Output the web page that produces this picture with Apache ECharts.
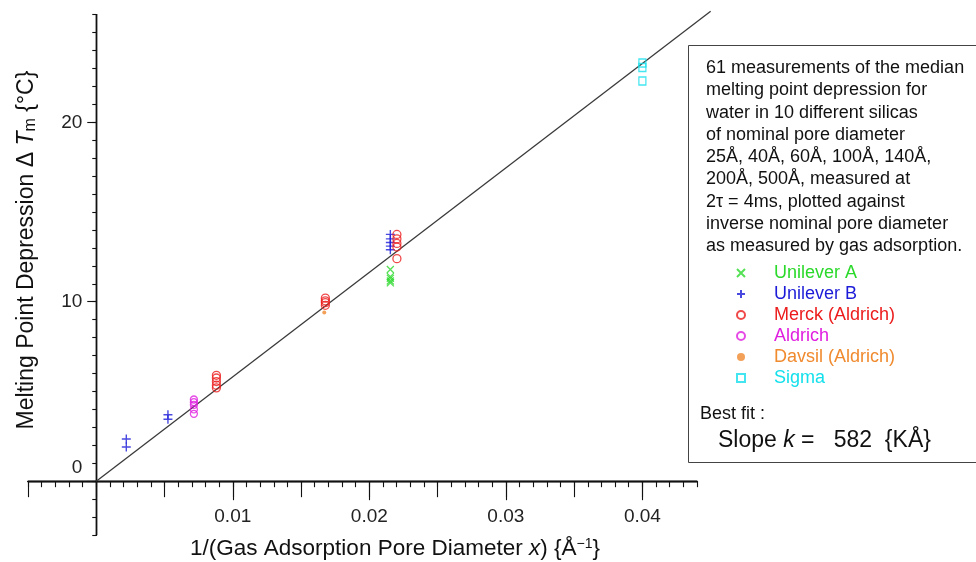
<!DOCTYPE html>
<html>
<head>
<meta charset="utf-8">
<script src="https://cdn.jsdelivr.net/npm/echarts@6/dist/echarts.min.js"></script>
<style>
  html, body { margin: 0; padding: 0; background: #fff; }
  #chart { width: 976px; height: 562px; }
</style>
</head>
<body>
<div id="chart"></div>
<script>
// Melting point depression of water in porous silicas vs inverse pore diameter
const unileverA = [[0.02154, 11.8], [0.02154, 11.4], [0.02154, 11.3], [0.02154, 11.15], [0.02154, 11.05]];
const unileverB = [[0.0022, 2.35], [0.0022, 1.9], [0.00525, 3.7], [0.00525, 3.45],
                   [0.02154, 13.75], [0.02154, 13.5], [0.02154, 13.3], [0.02154, 13.1], [0.02154, 12.9]];
const merck = [[0.0088, 5.9], [0.0088, 5.75], [0.0088, 5.55], [0.0088, 5.35], [0.0088, 5.2],
               [0.01678, 10.2], [0.01678, 10.05], [0.01678, 9.95], [0.01678, 9.8],
               [0.02202, 13.75], [0.02202, 13.5], [0.02202, 13.25], [0.02202, 13.05], [0.02202, 12.4]];
const aldrich = [[0.00715, 4.55], [0.00715, 4.4], [0.00715, 4.25], [0.00715, 4.0], [0.00715, 3.75]];
const davsil = [[0.0167, 9.4]];
const sigma = [[0.04, 23.3], [0.04, 23.05], [0.04, 22.3]];

// Best-fit line through the origin, slope in K·Å
const slopeK = 582;
const fitEndX = 0.045;

const xLabelValues = [0.01, 0.02, 0.03, 0.04];
const yLabelValues = [0, 10, 20];

const FONT = "'Liberation Sans', Arial, Helvetica, sans-serif";
const INK = '#111';

const colors = {
  unileverA: '#2bd92b',
  unileverB: '#1c1cd8',
  merck: '#ec1c1c',
  aldrich: '#e01ee0',
  davsil: '#f08a2e',
  sigma: '#14e0ec'
};

// plot layout and axis ranges
const W = 976, H = 562;
const G = { left: 28, right: 279, top: 14.6, bottom: 27 };
const X_MIN = -0.005, X_MAX = 0.044, Y_MIN = -3, Y_MAX = 26;
const gridW = W - G.left - G.right, gridH = H - G.top - G.bottom;
// offsets that bring the labelled axes onto the zero lines
const yZeroOffset = -gridW * (0 - X_MIN) / (X_MAX - X_MIN);
const xZeroOffset = -gridH * (0 - Y_MIN) / (Y_MAX - Y_MIN);

const halfTicks = [];
for (let i = -1; i <= 8; i++) halfTicks.push(+(i * 0.005).toFixed(3));

const chart = echarts.init(document.getElementById('chart'), null, { renderer: 'canvas' });

const tickStyle = { color: INK, width: 1.1 };

function xAxisOn(yIndex, extra) {
  return Object.assign({
    type: 'value', min: X_MIN, max: X_MAX, position: 'bottom',
    axisLine: { onZero: true, onZeroAxisIndex: yIndex, lineStyle: { color: INK, width: 1.3 } },
    splitLine: { show: false },
    axisLabel: { show: false }
  }, extra);
}
function yAxisOn(xIndex, extra) {
  return Object.assign({
    type: 'value', min: Y_MIN, max: Y_MAX, position: 'left',
    axisLine: { onZero: true, onZeroAxisIndex: xIndex, lineStyle: { color: INK, width: 1.3 } },
    splitLine: { show: false },
    axisLabel: { show: false }
  }, extra);
}

const crossPath = 'path://M0,0L10,10M10,0L0,10';
const plusPath = 'path://M5,0L5,10M0,5L10,5';

const option = {
  animation: false,
  backgroundColor: '#fff',
  grid: { left: G.left, right: G.right, top: G.top, bottom: G.bottom, containLabel: false, outerBoundsMode: 'none' },
  xAxis: [
    xAxisOn(0, {
      offset: xZeroOffset,
      interval: 0.001,
      axisLine: { onZero: false, lineStyle: { color: INK, width: 1.3 } },
      axisTick: { show: true, length: 6, lineStyle: tickStyle },
      axisLabel: {
        show: true, customValues: xLabelValues, margin: 26,
        fontFamily: FONT, fontSize: 19, color: '#222',
        formatter: v => v.toFixed(2)
      }
    }),
    xAxisOn(1, { axisTick: { show: true, customValues: halfTicks, length: 16, lineStyle: tickStyle } }),
    xAxisOn(2, { axisTick: { show: true, customValues: xLabelValues, length: 19, lineStyle: tickStyle } })
  ],
  yAxis: [
    yAxisOn(0, {
      offset: yZeroOffset,
      interval: 1,
      axisLine: { onZero: false, lineStyle: { color: INK, width: 1.3 } },
      axisTick: { show: true, length: 4, lineStyle: tickStyle },
      axisLabel: {
        show: true, customValues: yLabelValues, margin: 14,
        fontFamily: FONT, fontSize: 19, color: '#222',
        formatter: v => (v === 0 ? '{z|0}' : String(v)),
        rich: { z: { fontFamily: FONT, fontSize: 19, color: '#222', padding: [0, 0, 26, 0] } }
      }
    }),
    yAxisOn(1, { axisTick: { show: true, customValues: yLabelValues, length: 9, lineStyle: tickStyle } }),
    yAxisOn(2, { axisTick: { show: false } })
  ],
  legend: {
    orient: 'vertical',
    left: 736, top: 264, padding: 0,
    itemWidth: 8, itemHeight: 8, itemGap: 3,
    selectedMode: false,
    textStyle: { fontFamily: FONT, fontSize: 18, lineHeight: 18, padding: [0, 0, 0, 24] },
    data: [
      { name: 'Unilever A', textStyle: { color: colors.unileverA } },
      { name: 'Unilever B', textStyle: { color: colors.unileverB } },
      { name: 'Merck (Aldrich)', textStyle: { color: colors.merck } },
      { name: 'Aldrich', textStyle: { color: colors.aldrich } },
      { name: 'Davsil (Aldrich)', textStyle: { color: colors.davsil } },
      { name: 'Sigma', textStyle: { color: colors.sigma } }
    ]
  },
  series: [
    {
      // fit line drawn past the right end of the axis
      name: 'Best fit', type: 'custom', clip: false, silent: true, z: 1,
      data: [[0, 0, fitEndX, slopeK * fitEndX]],
      renderItem: function (params, api) {
        const p0 = api.coord([api.value(0), api.value(1)]);
        const p1 = api.coord([api.value(2), api.value(3)]);
        return {
          type: 'line',
          shape: { x1: p0[0], y1: p0[1], x2: p1[0], y2: p1[1] },
          style: { stroke: '#3a3a3a', lineWidth: 1.3 }
        };
      }
    },
    {
      name: 'Unilever A', type: 'scatter', data: unileverA, symbol: crossPath, symbolSize: 7,
      itemStyle: { color: colors.unileverA, borderColor: colors.unileverA, borderWidth: 1.3 }
    },
    {
      name: 'Unilever B', type: 'scatter', data: unileverB, symbol: plusPath, symbolSize: 9,
      itemStyle: { color: colors.unileverB, borderColor: colors.unileverB, borderWidth: 1.4 }
    },
    {
      name: 'Merck (Aldrich)', type: 'scatter', data: merck, symbol: 'circle', symbolSize: 8,
      itemStyle: { color: 'transparent', borderColor: colors.merck, borderWidth: 1.3 }
    },
    {
      name: 'Aldrich', type: 'scatter', data: aldrich, symbol: 'circle', symbolSize: 7,
      itemStyle: { color: 'transparent', borderColor: colors.aldrich, borderWidth: 1.3 }
    },
    {
      name: 'Davsil (Aldrich)', type: 'scatter', data: davsil, symbol: 'circle', symbolSize: 4,
      itemStyle: { color: colors.davsil }
    },
    {
      name: 'Sigma', type: 'scatter', data: sigma, symbol: 'rect', symbolSize: [7, 8],
      itemStyle: { color: 'transparent', borderColor: colors.sigma, borderWidth: 1.3 }
    }
  ],
  graphic: [
    {
      type: 'text', x: 395, y: 549,
      style: {
        text: '1/(Gas Adsorption Pore Diameter {i|x}) {Å{sup|−1}}',
        fontFamily: FONT, fontSize: 22.5, fill: '#111', align: 'center', verticalAlign: 'middle',
        rich: {
          i: { fontFamily: FONT, fontSize: 22.5, fontStyle: 'italic', fill: '#111' },
          sup: { fontFamily: FONT, fontSize: 14, fill: '#111', verticalAlign: 'top', padding: [0, 0, 8, 0] }
        }
      }
    },
    {
      type: 'text', x: 27, y: 250, rotation: Math.PI / 2,
      style: {
        text: 'Melting Point Depression Δ {i|T}{sub|m} {°C}',
        fontFamily: FONT, fontSize: 23, fill: '#111', align: 'center', verticalAlign: 'middle',
        rich: {
          i: { fontFamily: FONT, fontSize: 23, fontStyle: 'italic', fill: '#111' },
          sub: { fontFamily: FONT, fontSize: 16, fill: '#111', verticalAlign: 'bottom', padding: [6, 0, 0, 0] }
        }
      }
    },
    {
      type: 'rect', shape: { x: 688.5, y: 45.5, width: 300, height: 417 },
      style: { fill: '#fff', stroke: '#444', lineWidth: 1 }, z: -1
    },
    {
      type: 'text', x: 706, y: 57,
      style: {
        text: '61 measurements of the median\nmelting point depression for\nwater in 10 different silicas\nof nominal pore diameter\n25Å, 40Å, 60Å, 100Å, 140Å,\n200Å, 500Å, measured at\n2τ = 4ms, plotted against\ninverse nominal pore diameter\nas measured by gas adsorption.',
        fontFamily: FONT, fontSize: 18, lineHeight: 22.25, fill: '#111', align: 'left', verticalAlign: 'top'
      }
    },
    {
      type: 'text', x: 700, y: 414,
      style: { text: 'Best fit :', fontFamily: FONT, fontSize: 18, fill: '#111', align: 'left', verticalAlign: 'middle' }
    },
    {
      type: 'text', x: 718, y: 441,
      style: {
        text: 'Slope {i|k} =   582  {KÅ}',
        fontFamily: FONT, fontSize: 23, fill: '#111', align: 'left', verticalAlign: 'middle',
        rich: { i: { fontFamily: FONT, fontSize: 23, fontStyle: 'italic', fill: '#111' } }
      }
    }
  ]
};

chart.setOption(option);
</script>
</body>
</html>
